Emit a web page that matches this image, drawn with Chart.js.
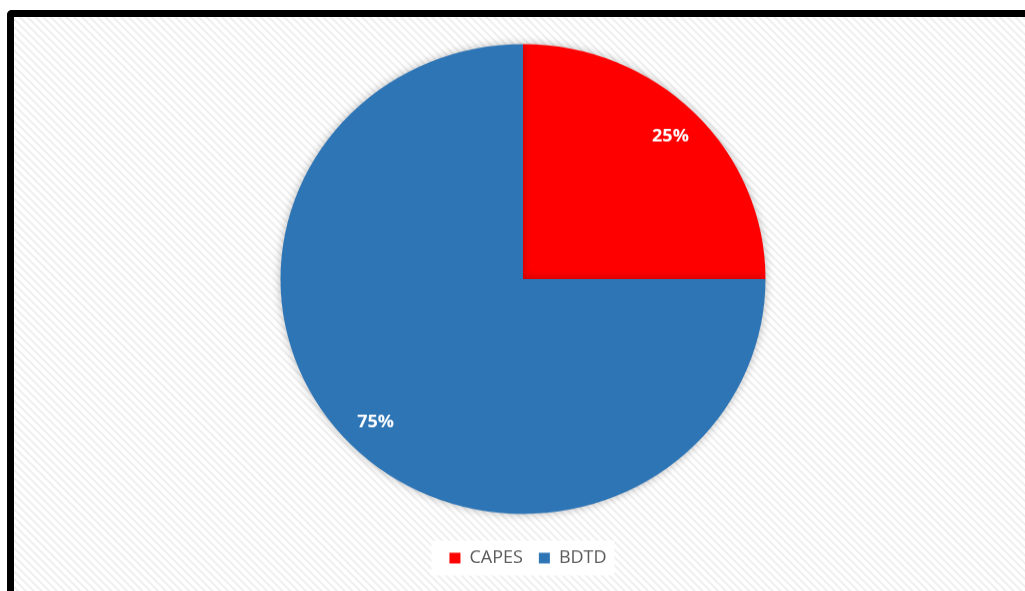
<!DOCTYPE html>
<html>
<head>
<meta charset="utf-8">
<script src="https://cdn.jsdelivr.net/npm/chart.js@4.4.0/dist/chart.umd.min.js"></script>
<style>
  html, body { margin: 0; padding: 0; background: #ffffff; width: 1025px; height: 591px; overflow: hidden; }
  #frame {
    position: absolute; left: 7px; top: 10px; width: 1100px; height: 700px;
    border-left: 7px solid #000; border-top: 7px solid #000; border-top-left-radius: 5px;
    background: repeating-linear-gradient(45deg, #ffffff 0px, #ffffff 2.5px, #efefef 3.5px, #efefef 4.5px, #ffffff 5.5px);
  }
  #wrap { position: absolute; left: 0; top: 0; width: 1025px; height: 591px; }
</style>
</head>
<body>
<div id="frame"></div>
<div id="wrap"><canvas id="c" width="1025" height="610" style="width:1025px;height:591px;display:block;"></canvas></div>
<script>
const categories = ['CAPES', 'BDTD'];
const values = [25, 75];
const labelsText = ['25%', '75%'];
const colors = ['#FF0000', '#2E75B6'];

const shadowPlugin = {
  id: 'shadow',
  beforeDatasetDraw(chart) {
    const ctx = chart.ctx;
    ctx.save();
    ctx.shadowColor = 'rgba(0,0,0,0.28)';
    ctx.shadowBlur = 10;
    ctx.shadowOffsetX = 0;
    ctx.shadowOffsetY = 0;
  },
  afterDatasetDraw(chart) {
    chart.ctx.restore();
  }
};

const legendShift = {
  id: 'legendShift',
  afterLayout(chart) {
    if (chart.legend) { chart.legend.left += 5; chart.legend.right += 5; }
  }
};

const legendBg = {
  id: 'legendBg',
  beforeDraw(chart) {
    const lg = chart.legend;
    if (!lg || !lg.legendHitBoxes || !lg.legendHitBoxes.length) return;
    const boxes = lg.legendHitBoxes;
    let x0 = Infinity, x1 = -Infinity;
    boxes.forEach(b => { x0 = Math.min(x0, b.left); x1 = Math.max(x1, b.left + b.width); });
    const ctx = chart.ctx;
    ctx.save();
    ctx.fillStyle = '#ffffff';
    ctx.fillRect(x0 - 18, lg.top + 7, (x1 - x0) + 26, lg.bottom - lg.top - 8);
    ctx.restore();
  }
};

const dataLabels = {
  id: 'dataLabels',
  afterDatasetsDraw(chart) {
    const ctx = chart.ctx;
    const meta = chart.getDatasetMeta(0);
    ctx.save();
    ctx.fillStyle = '#ffffff';
    ctx.font = 'bold 18px "Open Sans", "DejaVu Sans", sans-serif';
    ctx.textAlign = 'center';
    ctx.textBaseline = 'middle';
    meta.data.forEach((arc, i) => {
      const p = arc.getProps(['x', 'y', 'startAngle', 'endAngle', 'outerRadius']);
      const mid = (p.startAngle + p.endAngle) / 2;
      const r = p.outerRadius * 0.86;
      ctx.fillText(labelsText[i], p.x + Math.cos(mid) * r, p.y + Math.sin(mid) * r);
    });
    ctx.restore();
  }
};

new Chart(document.getElementById('c'), {
  type: 'pie',
  data: {
    labels: categories,
    datasets: [{
      data: values,
      backgroundColor: colors,
      borderWidth: 0,
      radius: 242.5
    }]
  },
  options: {
    responsive: false,
    animation: false,
    layout: { padding: { left: 21, right: 0, top: 25, bottom: 15 } },
    plugins: {
      tooltip: { enabled: false },
      legend: {
        position: 'bottom',
        labels: {
          boxWidth: 11,
          boxHeight: 11,
          padding: 16,
          color: '#595959',
          font: { family: '"Open Sans", "DejaVu Sans", sans-serif', size: 18 }
        }
      }
    }
  },
  plugins: [legendShift, legendBg, shadowPlugin, dataLabels]
});
</script>
</body>
</html>
